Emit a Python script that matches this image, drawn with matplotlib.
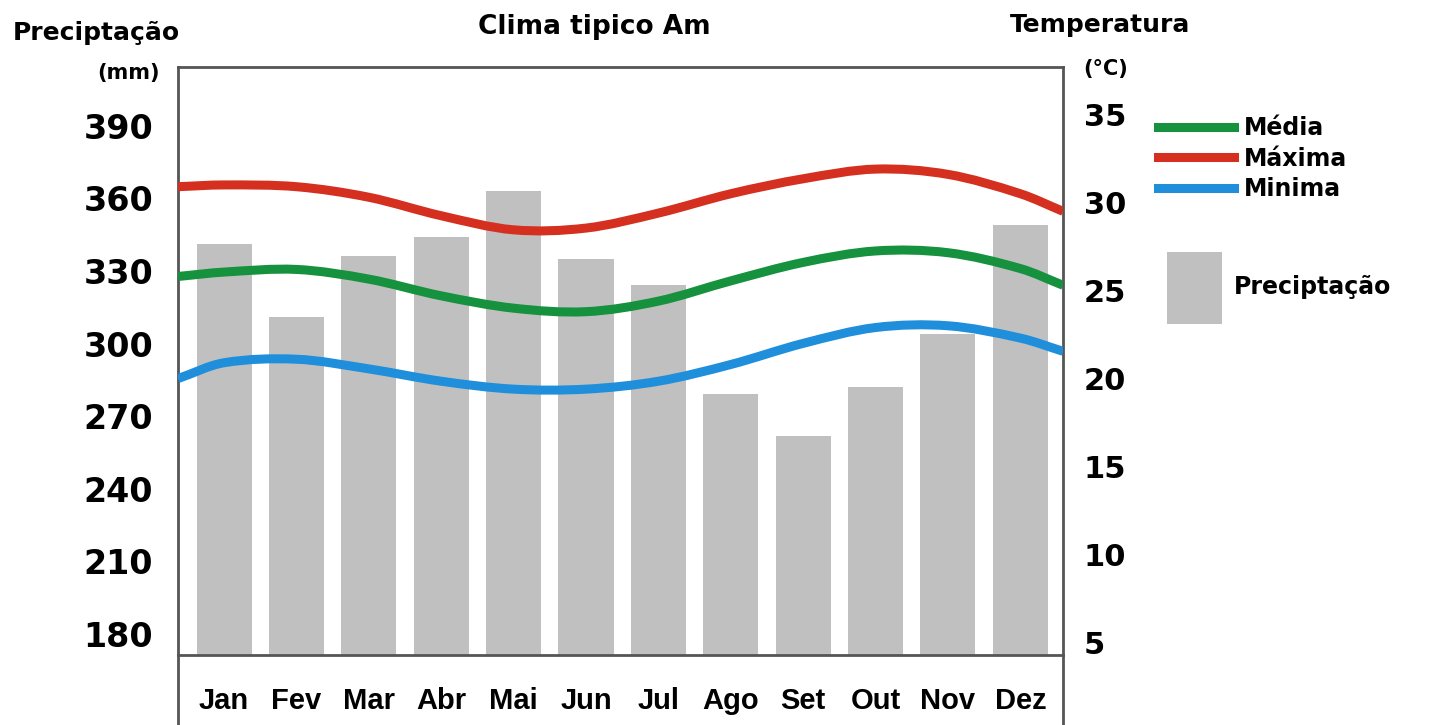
import numpy as np
import matplotlib.pyplot as plt
from matplotlib.path import Path
from matplotlib.patches import PathPatch
from matplotlib.lines import Line2D

months = ['Jan', 'Fev', 'Mar', 'Abr', 'Mai', 'Jun', 'Jul', 'Ago', 'Set', 'Out', 'Nov', 'Dez']
precip = [341, 311, 336, 344, 363, 335, 324, 279, 262, 282, 304, 349]

# temperatures, monthly; edge values are where the curves meet the frame
t_media = [26.05, 26.2, 25.65, 24.7, 24.0, 23.8, 24.4, 25.55, 26.6, 27.25, 27.15, 26.25]
t_max = [31.0, 30.9, 30.3, 29.25, 28.45, 28.55, 29.4, 30.5, 31.35, 31.9, 31.6, 30.5]
t_min = [20.9, 21.1, 20.55, 19.85, 19.4, 19.4, 19.85, 20.8, 22.0, 22.9, 23.0, 22.3]
edge_media = [25.8, 25.3]
edge_max = [30.9, 29.5]
edge_min = [20.0, 21.55]

left_ticks = [180, 210, 240, 270, 300, 330, 360, 390]
right_ticks = [5, 10, 15, 20, 25, 30, 35]

XL = (-0.635, 11.59)


def smooth_path(xs, ys):
    # cubic Hermite through the points, written as Bezier segments
    xs = np.asarray(xs, float)
    ys = np.asarray(ys, float)
    n = len(xs)
    m = np.zeros(n)
    for i in range(n):
        if i == 0:
            m[i] = (ys[1] - ys[0]) / (xs[1] - xs[0])
        elif i == n - 1:
            m[i] = (ys[-1] - ys[-2]) / (xs[-1] - xs[-2])
        else:
            m[i] = (ys[i + 1] - ys[i - 1]) / (xs[i + 1] - xs[i - 1])
    verts = [(xs[0], ys[0])]
    codes = [Path.MOVETO]
    for i in range(n - 1):
        h = xs[i + 1] - xs[i]
        verts += [(xs[i] + h / 3, ys[i] + m[i] * h / 3),
                  (xs[i + 1] - h / 3, ys[i + 1] - m[i + 1] * h / 3),
                  (xs[i + 1], ys[i + 1])]
        codes += [Path.CURVE4] * 3
    return Path(verts, codes)


fig = plt.figure(figsize=(14.43, 7.25), dpi=100)
ax = fig.add_axes([0.1234, 0.0966, 0.6133, 0.811])
ax2 = ax.twinx()

x = np.arange(len(months))
bars = ax.bar(x, precip, width=0.76, color='#c0c0c0', label='Preciptação')
ax.set_xlim(*XL)
ax.set_ylim(171.3, 414.3)
ax2.set_ylim(4.3, 37.7)

series = [('Média', t_media, edge_media, '#16913d'),
          ('Máxima', t_max, edge_max, '#d42f1f'),
          ('Minima', t_min, edge_min, '#1f8fdb')]
handles = []
for name, vals, edge, col in series:
    xs = [XL[0]] + list(x) + [XL[1]]
    ys = [edge[0]] + vals + [edge[1]]
    p = PathPatch(smooth_path(xs, ys), fill=False, edgecolor=col, lw=6.5,
                  capstyle='butt')
    ax2.add_patch(p)
    handles.append(Line2D([], [], color=col, lw=6.5, label=name))

ax.set_xticks(x)
ax.set_xticklabels(months, fontsize=21, family='Liberation Sans', fontweight='bold')
ax.tick_params(axis='x', length=0, pad=23)
ax.set_yticks(left_ticks)
ax.set_yticklabels([str(v) for v in left_ticks], fontsize=24, fontweight='bold')
ax.tick_params(axis='y', length=0, pad=18)
ax2.set_yticks(right_ticks)
ax2.set_yticklabels([str(v) for v in right_ticks], fontsize=22, fontweight='bold')
ax2.tick_params(axis='y', length=0, pad=15)

for a in (ax, ax2):
    for s in a.spines.values():
        s.set_color('#555555')
        s.set_linewidth(2)
for s in ax2.spines.values():
    s.set_visible(False)

# frame continues below the bars around the month labels
for fx in (0.1234, 0.1234 + 0.6133):
    fig.add_artist(Line2D([fx, fx], [0.0966, -0.01], color='#555555', lw=2))

fig.text(0.009, 0.955, 'Preciptação', fontsize=18, fontweight='bold', va='center')
fig.text(0.111, 0.9, '(mm)', fontsize=15, fontweight='bold', va='center', ha='right')
fig.text(0.412, 0.963, 'Clima tipico Am', fontsize=19, fontweight='bold', va='center',
         ha='center')
fig.text(0.7, 0.965, 'Temperatura', fontsize=18, fontweight='bold', va='center')
fig.text(0.751, 0.905, '(°C)', fontsize=15, fontweight='bold', va='center')

leg1 = fig.legend(handles=handles, loc='upper left', bbox_to_anchor=(0.8025, 0.84),
                  frameon=False, prop={'size': 17, 'weight': 'bold'},
                  handlelength=3.2, labelspacing=0.28, handletextpad=0.45,
                  borderpad=0, borderaxespad=0)
leg2 = fig.legend(handles=[bars], loc='upper left', bbox_to_anchor=(0.809, 0.652),
                  frameon=False, prop={'size': 17, 'weight': 'bold'},
                  handlelength=2.3, handleheight=4.3, handletextpad=0.5,
                  borderpad=0, borderaxespad=0)

fig.savefig('out.png', dpi=100)
